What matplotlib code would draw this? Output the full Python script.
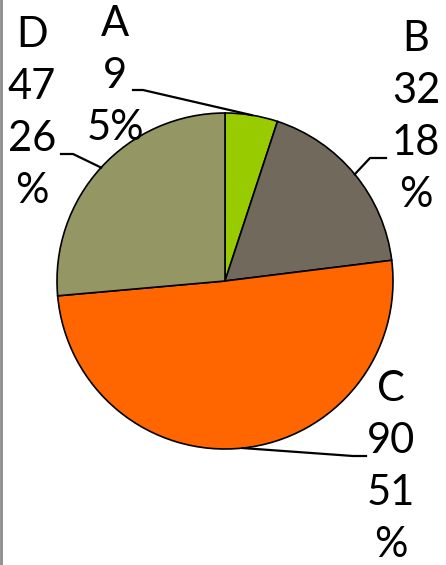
import numpy as np
import matplotlib
matplotlib.use("Agg")
import matplotlib.pyplot as plt
from matplotlib.lines import Line2D

# data
categories = ["A", "B", "C", "D"]
values = [9, 32, 90, 47]
percents = ["5%", "18%", "51%", "26%"]
colors = ["#99CC00", "#716A5C", "#FF6600", "#949664"]

W, H = 446, 565
CX, CY, R = 225, 281, 168  # pie centre/radius in pixels


def px(x, y):
    # pixel position -> data coords of the pie axes
    return (x - CX) / R, (CY - y) / R


fig = plt.figure(figsize=(W / 100, H / 100), dpi=100)
ax = fig.add_axes([(CX - R) / W, (H - CY - R) / H, 2 * R / W, 2 * R / H])

wedges, _ = ax.pie(values, colors=colors, startangle=90, counterclock=False,
                   radius=1, wedgeprops=dict(edgecolor="black", linewidth=1.2))
# pie() pads the limits, reset them so radius 1 fills the axes
ax.set_xlim(-1, 1)
ax.set_ylim(-1, 1)
ax.set_aspect("equal")
ax.axis("off")

# label blocks: lines of text, centre x, first line centre y
label_lines = {
    "A": ["A", "9", "5%"],
    "B": ["B", "32", "18", "%"],
    "C": ["C", "90", "51", "%"],
    "D": ["D", "47", "26", "%"],
}
label_pos = {"A": (115, 24), "B": (416, 39), "C": (391, 389), "D": (32, 35)}
step = 52
# leader line elbow / end points in pixels
elbows = {
    "A": [(143, 90), (133, 90)],
    "B": [(370, 158), (386, 158)],
    "C": [(353, 456), (366, 456)],
    "D": [(73, 154), (61, 154)],
}

font = dict(family=["Lato", "DejaVu Sans"], fontsize=30, color="black")

total = sum(values)
start = 0.0
for cat, v in zip(categories, values):
    mid = start + v / total * 180.0
    start += v / total * 360.0
    ang = np.deg2rad(mid)
    ex, ey = np.sin(ang), np.cos(ang)
    pts = [(ex, ey)] + [px(*p) for p in elbows[cat]]
    xs, ys = zip(*pts)
    ax.add_line(Line2D(xs, ys, color="black", lw=1.6, clip_on=False))

    x0, y0 = label_pos[cat]
    for i, line in enumerate(label_lines[cat]):
        tx, ty = px(x0, y0 + i * step)
        ax.text(tx, ty, line, ha="center", va="center", clip_on=False, **font)

# thin grey frame edge on the left
fig.add_artist(Line2D([0.002, 0.002], [0, 1], transform=fig.transFigure,
                      color="#8c8c8c", lw=2))

fig.savefig("out.png", dpi=100)
